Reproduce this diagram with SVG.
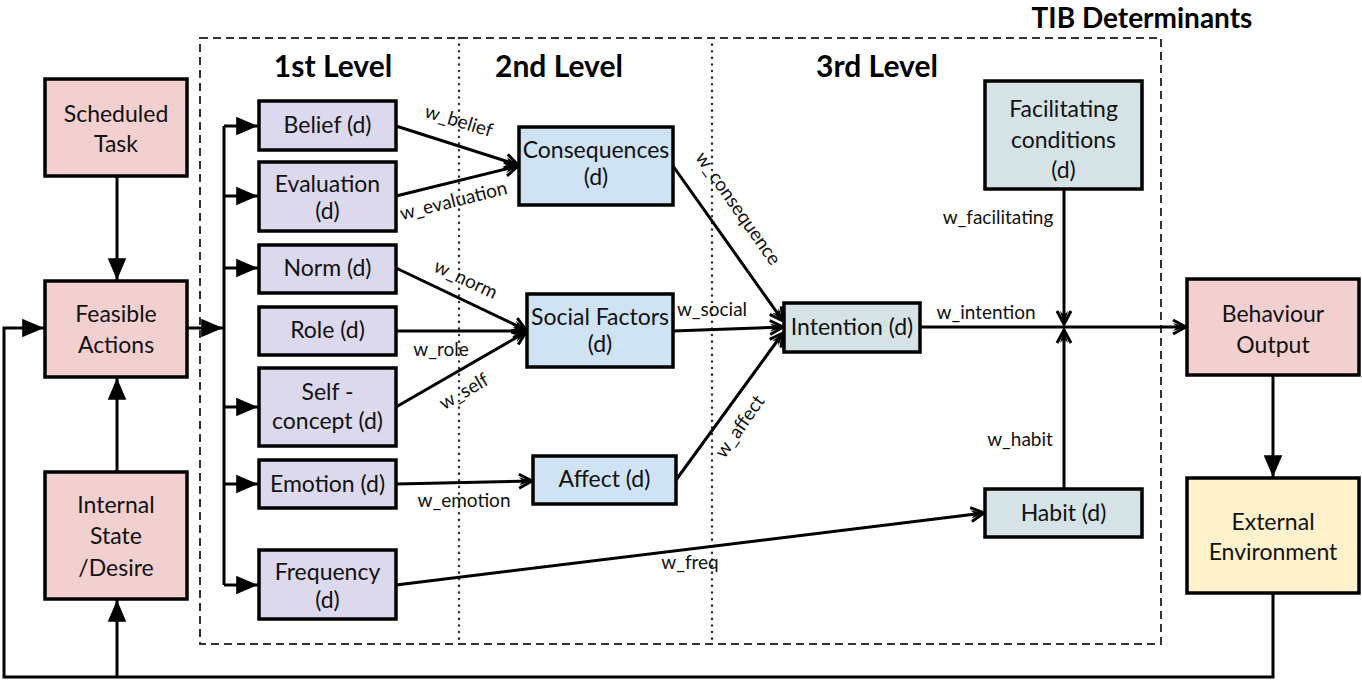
<svg xmlns="http://www.w3.org/2000/svg" width="1362" height="680" viewBox="0 0 1362 680">
<style>
.box{stroke:#000;stroke-width:3.5}
.pink{fill:#f2d0d0}.purple{fill:#dcd9ee}.blue{fill:#cfe3f5}.teal{fill:#d5e3e6}.yellow{fill:#fff2cc}
.t{font-family:Lato,"Liberation Sans",sans-serif;font-size:23px;fill:#111;text-anchor:middle}
.h{font-family:Lato,"Liberation Sans",sans-serif;font-size:30px;font-weight:bold;fill:#000;text-anchor:middle}
.l{font-family:Lato,"Liberation Sans",sans-serif;font-size:19px;fill:#111;text-anchor:middle}
.c{fill:none;stroke:#000;stroke-width:3}
.f{marker-end:url(#fa)}
.o{marker-end:url(#oa)}
</style>
<defs>
<marker id="fa" markerUnits="userSpaceOnUse" markerWidth="24" markerHeight="20" viewBox="-21 -9 22 18" refX="0" refY="0" orient="auto">
<path d="M-20,-8.5 L0,0 L-20,8.5 Z" fill="#000"/>
</marker>
<marker id="oa" markerUnits="userSpaceOnUse" markerWidth="20" markerHeight="20" viewBox="-16 -10 18 20" refX="0" refY="0" orient="auto">
<path d="M-13,-7 L0,0 L-13,7" fill="none" stroke="#000" stroke-width="3"/>
<path d="M-13,-4 L0,0 L-13,4 L-9,0 Z" fill="#000"/>
</marker>
</defs>
<rect width="1362" height="680" fill="#fff"/>

<g id="frame">
<rect x="200" y="38" width="961" height="606" fill="none" stroke="#333" stroke-width="2" stroke-dasharray="8,5"/>
<line x1="459" y1="38" x2="459" y2="644" stroke="#333" stroke-width="2.5" stroke-dasharray="0.1,6.5" stroke-linecap="round"/>
<line x1="712" y1="38" x2="712" y2="644" stroke="#333" stroke-width="2.5" stroke-dasharray="0.1,6.5" stroke-linecap="round"/>
<text class="h" x="1142" y="28" style="font-size:28px">TIB Determinants</text>
<text class="h" x="333" y="77">1st Level</text>
<text class="h" x="559" y="77">2nd Level</text>
<text class="h" x="877" y="77">3rd Level</text>
</g>

<g id="connectors">
<line class="c f" x1="117" y1="176" x2="117" y2="280"/>
<line class="c f" x1="117" y1="472" x2="117" y2="378"/>
<path class="c f" d="M1273,593 V677 H4 V328 H44"/>
<line class="c f" x1="117" y1="677" x2="117" y2="600"/>
<line class="c f" x1="187" y1="328" x2="223" y2="328"/>
<path class="c" d="M224,126 V585"/>
<line class="c f" x1="224" y1="126" x2="258" y2="126"/>
<line class="c f" x1="224" y1="196" x2="258" y2="196"/>
<line class="c f" x1="224" y1="268" x2="258" y2="268"/>
<line class="c f" x1="224" y1="407" x2="258" y2="407"/>
<line class="c f" x1="224" y1="484" x2="258" y2="484"/>
<line class="c f" x1="224" y1="585" x2="258" y2="585"/>
<line class="c f" x1="1273" y1="375" x2="1273" y2="477"/>

<line class="c o" x1="396" y1="126" x2="518" y2="165"/>
<line class="c o" x1="396" y1="196" x2="518" y2="166"/>
<line class="c o" x1="396" y1="268" x2="526" y2="330"/>
<line class="c o" x1="396" y1="331" x2="526" y2="331"/>
<line class="c o" x1="396" y1="407" x2="526" y2="332"/>
<line class="c o" x1="396" y1="484" x2="532" y2="481"/>
<line class="c o" x1="396" y1="585" x2="984" y2="513"/>
<line class="c o" x1="673" y1="166" x2="783" y2="321"/>
<line class="c o" x1="673" y1="331" x2="783" y2="327"/>
<line class="c o" x1="676" y1="480" x2="783" y2="333"/>
<line class="c o" x1="920" y1="327" x2="1186" y2="327"/>
<line class="c o" x1="1064" y1="189" x2="1064" y2="324"/>
<line class="c o" x1="1064" y1="489" x2="1064" y2="330"/>

<text class="l" transform="translate(457,127) rotate(17)">w_belief</text>
<text class="l" transform="translate(455,207) rotate(-14)">w_evaluation</text>
<text class="l" transform="translate(463,285) rotate(25)">w_norm</text>
<text class="l" x="441" y="356">w_role</text>
<text class="l" transform="translate(467,397) rotate(-30)">w_self</text>
<text class="l" x="464" y="507">w_emotion</text>
<text class="l" transform="translate(733,212) rotate(55)">w_consequence</text>
<text class="l" x="712" y="316">w_social</text>
<text class="l" transform="translate(745,430) rotate(-55)">w_affect</text>
<text class="l" x="690" y="569">w_freq</text>
<text class="l" x="986" y="319">w_intention</text>
<text class="l" x="998" y="224">w_facilitating</text>
<text class="l" x="1020" y="446">w_habit</text>
</g>

<g id="scheduled-task"><rect class="box pink" x="45" y="79" width="142" height="97"/><text class="t" x="116" y="122">Scheduled</text><text class="t" x="116" y="152">Task</text></g>
<g id="feasible-actions"><rect class="box pink" x="45" y="281" width="142" height="96"/><text class="t" x="116" y="322">Feasible</text><text class="t" x="116" y="353">Actions</text></g>
<g id="internal-state"><rect class="box pink" x="45" y="472" width="142" height="127"/><text class="t" x="116" y="513">Internal</text><text class="t" x="116" y="544">State</text><text class="t" x="116" y="576">/Desire</text></g>

<g id="belief"><rect class="box purple" x="259" y="101" width="137" height="49"/><text class="t" x="327.5" y="133">Belief (d)</text></g>
<g id="evaluation"><rect class="box purple" x="259" y="162" width="137" height="69"/><text class="t" x="327.5" y="192">Evaluation</text><text class="t" x="327.5" y="219">(d)</text></g>
<g id="norm"><rect class="box purple" x="259" y="245" width="137" height="48"/><text class="t" x="327.5" y="276">Norm (d)</text></g>
<g id="role"><rect class="box purple" x="259" y="307" width="137" height="48"/><text class="t" x="327.5" y="338">Role (d)</text></g>
<g id="self-concept"><rect class="box purple" x="259" y="368" width="137" height="78"/><text class="t" x="327.5" y="400">Self -</text><text class="t" x="327.5" y="429">concept (d)</text></g>
<g id="emotion"><rect class="box purple" x="259" y="460" width="137" height="48"/><text class="t" x="327.5" y="492">Emotion (d)</text></g>
<g id="frequency"><rect class="box purple" x="259" y="550" width="137" height="69"/><text class="t" x="327.5" y="580">Frequency</text><text class="t" x="327.5" y="608">(d)</text></g>

<g id="consequences"><rect class="box blue" x="519" y="127" width="154" height="78"/><text class="t" x="596" y="158">Consequences</text><text class="t" x="596" y="185">(d)</text></g>
<g id="social-factors"><rect class="box blue" x="527" y="294" width="146" height="73"/><text class="t" x="600" y="325">Social Factors</text><text class="t" x="600" y="352">(d)</text></g>
<g id="affect"><rect class="box blue" x="533" y="456" width="143" height="48"/><text class="t" x="604.5" y="487">Affect (d)</text></g>

<g id="intention"><rect class="box teal" x="784" y="303" width="136" height="49"/><text class="t" x="852" y="335">Intention (d)</text></g>
<g id="facilitating"><rect class="box teal" x="985" y="81" width="157" height="108"/><text class="t" x="1063.5" y="117">Facilitating</text><text class="t" x="1063.5" y="148">conditions</text><text class="t" x="1063.5" y="178">(d)</text></g>
<g id="habit"><rect class="box teal" x="985" y="489" width="157" height="48"/><text class="t" x="1063.5" y="521">Habit (d)</text></g>

<g id="behaviour-output"><rect class="box pink" x="1187" y="279" width="172" height="96"/><text class="t" x="1273" y="322">Behaviour</text><text class="t" x="1273" y="353">Output</text></g>
<g id="external-environment"><rect class="box yellow" x="1187" y="478" width="172" height="115"/><text class="t" x="1273" y="530">External</text><text class="t" x="1273" y="560">Environment</text></g>
</svg>
